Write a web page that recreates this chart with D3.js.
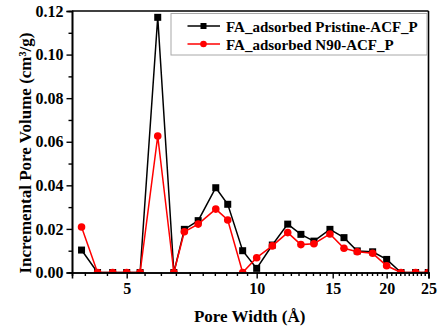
<!DOCTYPE html>
<html>
<head>
<meta charset="utf-8">
<script src="https://cdn.jsdelivr.net/npm/d3@7"></script>
<style>
  body { margin: 0; background: #fff; }
  svg text { font-family: "Liberation Serif", Tinos, "Times New Roman", Times, "DejaVu Serif", serif !important; font-weight: bold; }
</style>
</head>
<body>
<div id="chart"></div>
<script>
// pore width (Å) and incremental pore volume (cm³/g)
const poreWidth = [3.93, 4.28, 4.64, 5.0, 5.37, 5.90, 6.43, 6.80, 7.32, 8.04, 8.57, 9.28, 10.0,
  10.87, 11.80, 12.66, 13.57, 14.78, 15.93, 17.10, 18.56, 20.0, 21.59, 23.34, 24.97]
const pristine = [0.0103, 0, 0, 0, 0, 0.1171, 0, 0.0198, 0.0238, 0.0389, 0.0313, 0.0100, 0.0019,
  0.0126, 0.0222, 0.0175, 0.0144, 0.0198, 0.0160, 0.0099, 0.0095, 0.0060, 0, 0, 0]
const n90 = [0.0209, 0, 0, 0, 0, 0.0626, 0, 0.0187, 0.0222, 0.0291, 0.0241, 0, 0.0068,
  0.0122, 0.0183, 0.0128, 0.0132, 0.0177, 0.0111, 0.0095, 0.0088, 0.0031, 0, 0, 0]
const xTicks = [5, 10, 15, 20, 25]
const yTicks = [0, 0.02, 0.04, 0.06, 0.08, 0.10, 0.12]
const seriesNames = ['FA_adsorbed Pristine-ACF_P', 'FA_adsorbed N90-ACF_P']

const serif = '"Liberation Serif", Tinos, "Times New Roman", Times, "DejaVu Serif", serif'

const width = 439
const height = 329
const margin = { top: 11, right: 10.5, bottom: 56.5, left: 72 }
const innerW = width - margin.left - margin.right
const innerH = height - margin.top - margin.bottom

const svg = d3.select('#chart')
  .append('svg')
  .attr('width', width)
  .attr('height', height)

const g = svg.append('g').attr('transform', `translate(${margin.left},${margin.top})`)

const xScale = d3.scaleLog().domain([3.735, 25]).range([0, innerW])
const yScale = d3.scaleLinear().domain([0, 0.12]).range([innerH, 0])

// minor ticks every 0.5 Å, every 0.01 on y
const xMinor = d3.range(4, 25, 0.5).filter(v => !xTicks.includes(v))
const yMinor = d3.range(0.01, 0.12, 0.02)

g.append('defs').append('clipPath').attr('id', 'clip')
  .append('rect').attr('width', innerW).attr('height', innerH)

const plot = g.append('g').attr('clip-path', 'url(#clip)')

const series = [
  { name: seriesNames[0], values: pristine, color: '#000000', shape: 'square' },
  { name: seriesNames[1], values: n90, color: '#ff0000', shape: 'circle' },
]

series.forEach(s => {
  const pts = poreWidth.map((w, i) => [w, s.values[i]])
  const line = d3.line().x(d => xScale(d[0])).y(d => yScale(d[1]))
  plot.append('path')
    .datum(pts)
    .attr('fill', 'none')
    .attr('stroke', s.color)
    .attr('stroke-width', 1.5)
    .attr('d', line)
  if (s.shape === 'square') {
    plot.selectAll(null).data(pts).enter().append('rect')
      .attr('x', d => xScale(d[0]) - 3.5)
      .attr('y', d => yScale(d[1]) - 3.5)
      .attr('width', 7)
      .attr('height', 7)
      .attr('fill', s.color)
  } else {
    plot.selectAll(null).data(pts).enter().append('circle')
      .attr('cx', d => xScale(d[0]))
      .attr('cy', d => yScale(d[1]))
      .attr('r', 3.8)
      .attr('fill', s.color)
  }
})

// axes
g.append('g')
  .attr('transform', `translate(0,${innerH})`)
  .call(d3.axisBottom(xScale).tickValues(xTicks).tickFormat(d3.format('d')).tickSize(6).tickPadding(4))
g.append('g')
  .attr('transform', `translate(0,${innerH})`)
  .call(d3.axisBottom(xScale).tickValues(xMinor).tickFormat('').tickSize(3.5))
g.append('g')
  .call(d3.axisLeft(yScale).tickValues(yTicks).tickFormat(d3.format('.2f')).tickSize(5.5).tickPadding(3))
g.append('g')
  .call(d3.axisLeft(yScale).tickValues(yMinor).tickFormat('').tickSize(3.5))

g.selectAll('.domain').attr('stroke', '#000').attr('stroke-width', 1.6)
g.selectAll('.tick line').attr('stroke', '#000').attr('stroke-width', 1.4)
g.selectAll('g').attr('font-family', serif)
g.selectAll('.tick text').attr('fill', '#000').style('font-size', '16px')

// frame top / right
g.append('line').attr('x1', 0).attr('x2', innerW).attr('y1', 0).attr('y2', 0)
  .attr('stroke', '#000').attr('stroke-width', 1.6)
g.append('line').attr('x1', innerW).attr('x2', innerW).attr('y1', 0).attr('y2', innerH)
  .attr('stroke', '#000').attr('stroke-width', 1.6)

// axis titles
svg.append('text')
  .attr('x', margin.left + xScale(10) - 7)
  .attr('y', 322)
  .attr('text-anchor', 'middle')
  .style('font-size', '17px')
  .text('Pore Width (Å)')

svg.append('text')
  .attr('transform', 'translate(31,153) rotate(-90)')
  .attr('text-anchor', 'middle')
  .style('font-size', '17px')
  .text('Incremental Pore Volume (cm³/g)')

// legend
const legend = svg.append('g').attr('transform', 'translate(171,13.5)')
legend.append('rect')
  .attr('width', 256)
  .attr('height', 41.5)
  .attr('fill', '#fff')
  .attr('stroke', '#a8a8a8')
  .attr('stroke-width', 1)

series.forEach((s, i) => {
  const row = legend.append('g').attr('transform', `translate(0,${12.5 + i * 18})`)
  row.append('line').attr('x1', 16.5).attr('x2', 49).attr('stroke', s.color).attr('stroke-width', 1.5)
  if (s.shape === 'square') {
    row.append('rect').attr('x', 29.5).attr('y', -3).attr('width', 6).attr('height', 6).attr('fill', s.color)
  } else {
    row.append('circle').attr('cx', 32.5).attr('r', 3.3).attr('fill', s.color)
  }
  row.append('text')
    .attr('x', 55)
    .attr('y', 5.5)
    .style('font-size', '15px')
    .text(s.name)
})
</script>
</body>
</html>
